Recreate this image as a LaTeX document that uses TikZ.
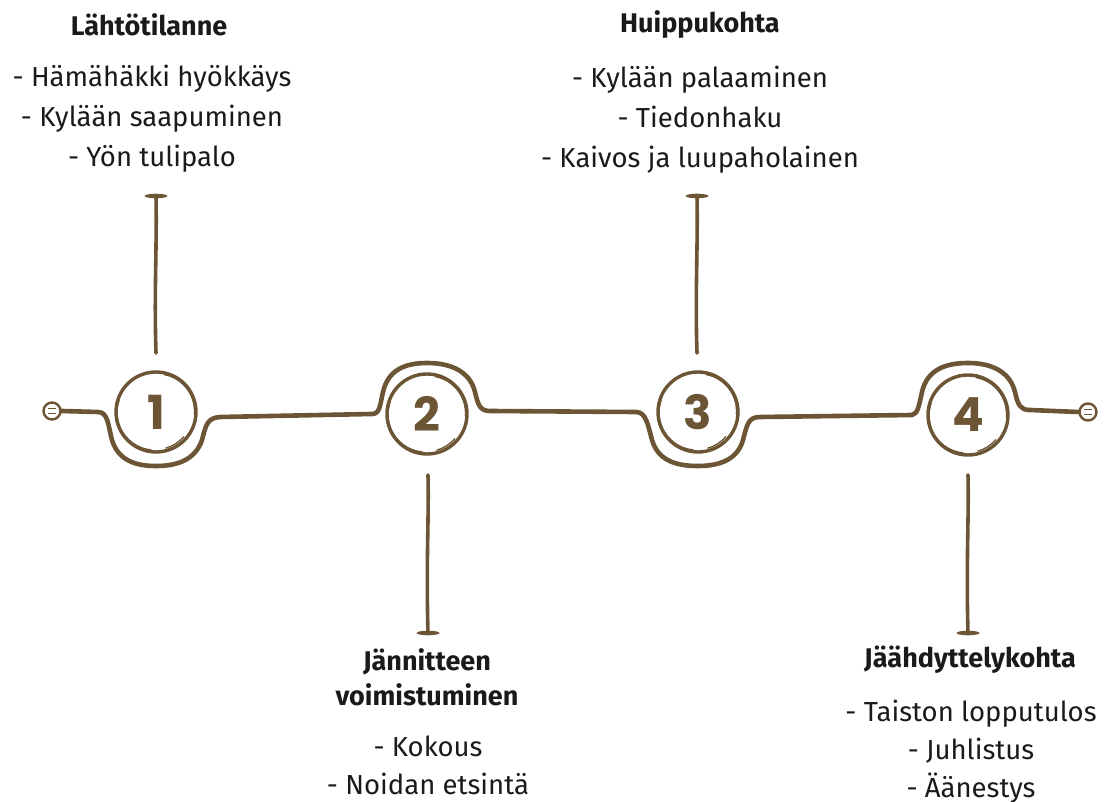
\documentclass[tikz,border=0pt]{standalone}
\usepackage{fontspec}
\setmainfont{Fira Sans}
\newfontfamily\numfont{Poppins}
\definecolor{bark}{RGB}{107,85,53}
\definecolor{ink}{RGB}{26,26,26}

\begin{document}
\begin{tikzpicture}[x=1pt,y=-1pt,
  trail/.style={draw=bark,line width=4.6pt,line cap=round,line join=round},
  stem/.style={draw=bark,line width=3.6pt,line cap=round},
  ring/.style={circle,draw=bark,line width=3.4pt,minimum size=80pt,inner sep=0pt,
    font=\numfont\bfseries\fontsize{47}{47}\selectfont,text=bark},
  sketch/.style={draw=bark,line width=1.3pt},
  plug/.style={circle,draw=bark,fill=white,line width=2.4pt,minimum size=17pt,inner sep=0pt},
  title/.style={font=\bfseries\fontsize{27}{35}\selectfont,text=ink,align=center},
  items/.style={font=\fontsize{27.5}{#1}\selectfont,text=ink,align=center},
  items/.default=39]

\useasboundingbox (0,0) rectangle (1104,802);

% the four stages
\node[ring] (c1) at (156,412) {1};
\node[ring] (c2) at (427,414) {2};
\node[ring] (c3) at (698,412) {3};
\node[ring] (c4) at (968,415) {4};

% hand-drawn second strokes on the rings
\foreach \c in {c1,c2,c3,c4}{
  \draw[sketch] ([shift={(1.5,-1)}]\c.center) ++(-80:37) arc (-80:5:37);
  \draw[sketch] ([shift={(-1.5,0.5)}]\c.center) ++(95:37.5) arc (95:200:37.5);
  \draw[sketch] ([shift={(0,1)}]\c.center) ++(40:36.5) arc (40:75:36.5);
}

% end plugs of the timeline
\node[plug] (s) at (52,411) {};
\node[plug] (e) at (1088,412) {};
\foreach \p in {s,e}{
  \draw[bark,line width=1.5pt] ([shift={(-4,-2.3)}]\p.center) -- ++(8,0);
  \draw[bark,line width=1.5pt] ([shift={(-4,2.3)}]\p.center) -- ++(8,0);
}

% the winding timeline
\draw[trail] (s.east) -- (98,412)
  .. controls (108,412) and (108,425) .. (112,440)
  .. controls (118,460) and (135,466) .. (156,466)
  .. controls (180,466) and (196,458) .. (202,440)
  .. controls (206,425) and (207,418) .. (220,417)
  -- (372,414)
  .. controls (380,414) and (380,405) .. (383,392)
  .. controls (388,370) and (405,363) .. (427,363)
  .. controls (452,363) and (470,372) .. (475,392)
  .. controls (478,405) and (480,411) .. (490,411)
  -- (636,412)
  .. controls (646,412) and (648,425) .. (652,440)
  .. controls (658,460) and (675,466) .. (698,466)
  .. controls (722,466) and (738,458) .. (743,440)
  .. controls (747,425) and (748,417) .. (760,417)
  -- (912,415)
  .. controls (918,414) and (919,405) .. (922,392)
  .. controls (927,370) and (945,363) .. (968,363)
  .. controls (992,363) and (1010,372) .. (1015,392)
  .. controls (1018,405) and (1020,410) .. (1030,410)
  -- (e.west);

% stems towards the labels
\coordinate (t1) at (156,196); \coordinate (b1) at (156,353);
\coordinate (t3) at (697,196); \coordinate (b3) at (697,353);
\coordinate (t2) at (428,475); \coordinate (b2) at (428,633);
\coordinate (t4) at (968,475); \coordinate (b4) at (968,633);
\draw[stem] (t1) .. controls (157,250) and (154,290) .. (b1);
\draw[stem] (t3) .. controls (698,250) and (695,290) .. (b3);
\draw[stem] (t2) .. controls (429,520) and (426,560) .. (b2);
\draw[stem] (t4) .. controls (969,520) and (966,560) .. (b4);
\fill[bark] (t1) ellipse (11.5 and 2.3);
\fill[bark] (t3) ellipse (11.5 and 2.3);
\fill[bark] (b2) ellipse (11.5 and 2.3);
\fill[bark] (b4) ellipse (11.5 and 2.3);

% labels
\node[title] (h1) at (149,25) {Lähtötilanne};
\node[items=40] (l1) at (152,119) {- Hämähäkki hyökkäys\\- Kylään saapuminen\\- Yön tulipalo};

\node[title] (h3) at (700,25) {Huippukohta};
\node[items=40] (l3) at (700,120) {- Kylään palaaminen\\- Tiedonhaku\\- Kaivos ja luupaholainen};

\node[title] (h2) at (427,677) {Jännitteen\\voimistuminen};
\node[items=38] (l2) at (428,765) {- Kokous\\- Noidan etsintä};

\node[title] (h4) at (970,660) {Jäähdyttelykohta};
\node[items=38] (l4) at (971,752) {- Taiston lopputulos\\- Juhlistus\\- Äänestys};
\end{tikzpicture}
\end{document}
